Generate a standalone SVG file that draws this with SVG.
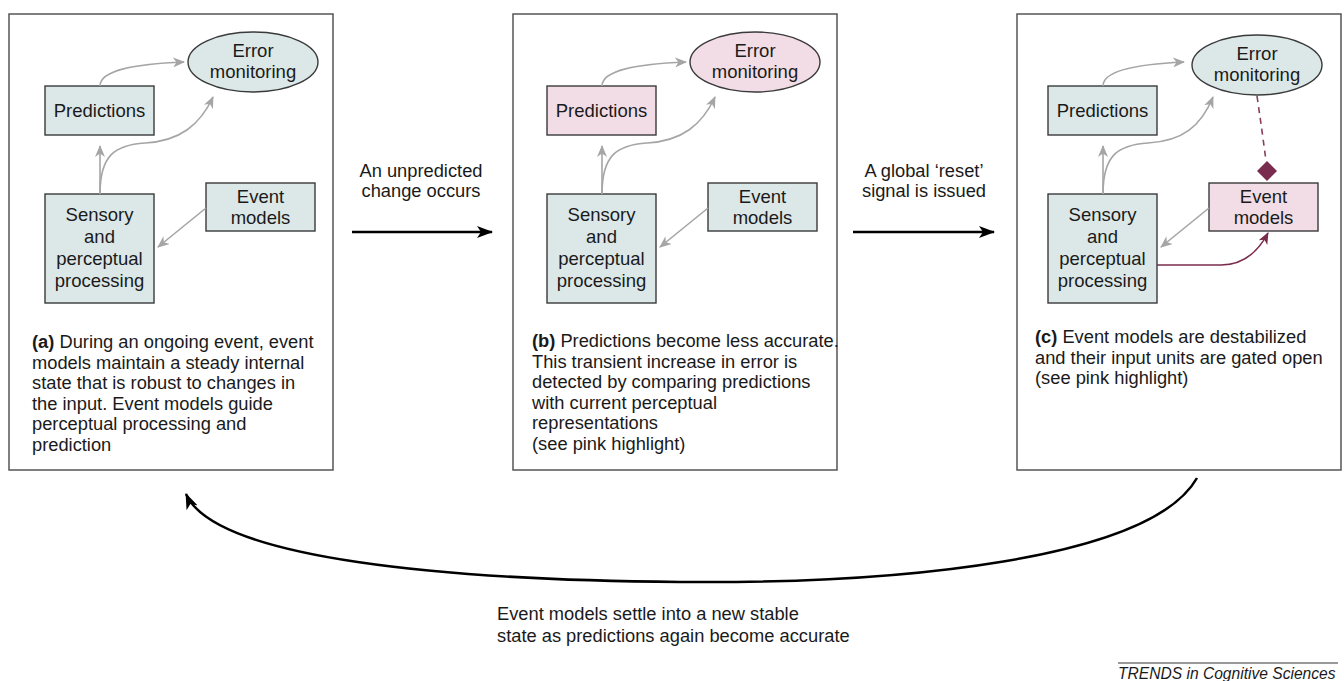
<svg xmlns="http://www.w3.org/2000/svg" width="1344" height="681" viewBox="0 0 1344 681">
<style>
text{font-family:"Liberation Sans",Arial,sans-serif;fill:#1a1a1a}
.nt{font-size:18.5px;text-anchor:middle}
.cap{font-size:18.3px}
.panel{fill:#fff;stroke:#555;stroke-width:1.5}
.blue{fill:#dce8e8;stroke:#3a3a3a;stroke-width:1.4}
.pink{fill:#f2dde6;stroke:#3a3a3a;stroke-width:1.4}
.ga{fill:none;stroke:#a5a5a5;stroke-width:1.6;marker-end:url(#ag)}
.ba{fill:none;stroke:#000;stroke-width:2.5;marker-end:url(#ab)}
</style>
<defs>
<marker id="ag" viewBox="0 0 12 10" refX="11" refY="5" markerWidth="12" markerHeight="10" markerUnits="userSpaceOnUse" orient="auto"><path d="M0,0 L12,5 L0,10 L3.5,5 z" fill="#a5a5a5"/></marker>
<marker id="am" viewBox="0 0 12 10" refX="11" refY="5" markerWidth="12" markerHeight="10" markerUnits="userSpaceOnUse" orient="auto"><path d="M0,0 L12,5 L0,10 L3.5,5 z" fill="#7a2c4e"/></marker>
<marker id="ab" viewBox="0 0 16 12" refX="15" refY="6" markerWidth="16" markerHeight="12" markerUnits="userSpaceOnUse" orient="auto"><path d="M0,0 L16,6 L0,12 L4,6 z" fill="#000"/></marker>
</defs>
<rect width="1344" height="681" fill="#fff"/>

<!-- Panel frames -->
<rect id="panel-a" class="panel" x="9" y="14" width="324" height="456"/>
<rect id="panel-b" class="panel" x="513" y="14" width="324" height="456"/>
<rect id="panel-c" class="panel" x="1017" y="14" width="324" height="456"/>

<!-- Panel a -->
<g id="a">
  <g id="a-error"><ellipse class="blue" cx="253" cy="62" rx="65" ry="30"/><text class="nt" x="253" y="57">Error</text><text class="nt" x="253" y="78">monitoring</text></g>
  <g id="a-predictions"><rect class="blue" x="45" y="86" width="109" height="49"/><text class="nt" x="99.5" y="117">Predictions</text></g>
  <g id="a-sensory"><rect class="blue" x="45" y="194" width="109" height="109"/><text class="nt" x="99.5" y="221">Sensory</text><text class="nt" x="99.5" y="243">and</text><text class="nt" x="99.5" y="265">perceptual</text><text class="nt" x="99.5" y="287">processing</text></g>
  <g id="a-event"><rect class="blue" x="206" y="183" width="109" height="48"/><text class="nt" x="260.5" y="203">Event</text><text class="nt" x="260.5" y="224">models</text></g>
  <g id="a-connectors">
    <path class="ga" d="M100 86 C100 70 135 64 184 62"/>
    <path class="ga" d="M100 194 L100 146"/>
    <path class="ga" d="M100 194 C100 155 115 145 145 143 C180 141 200 125 213 97"/>
    <path class="ga" d="M206 208 L158 247"/>
  </g>
  <text class="cap" x="32" y="348"><tspan font-weight="bold">(a)</tspan> During an ongoing event, event</text>
  <text class="cap" x="32" y="368.5">models maintain a steady internal</text>
  <text class="cap" x="32" y="389">state that is robust to changes in</text>
  <text class="cap" x="32" y="409.5">the input. Event models guide</text>
  <text class="cap" x="32" y="430">perceptual processing and</text>
  <text class="cap" x="32" y="450.5">prediction</text>
</g>

<!-- Panel b -->
<g id="b">
  <g transform="translate(502,0)">
    <g id="b-error"><ellipse class="pink" cx="253" cy="62" rx="65" ry="30"/><text class="nt" x="253" y="57">Error</text><text class="nt" x="253" y="78">monitoring</text></g>
    <g id="b-predictions"><rect class="pink" x="45" y="86" width="109" height="49"/><text class="nt" x="99.5" y="117">Predictions</text></g>
    <g id="b-sensory"><rect class="blue" x="45" y="194" width="109" height="109"/><text class="nt" x="99.5" y="221">Sensory</text><text class="nt" x="99.5" y="243">and</text><text class="nt" x="99.5" y="265">perceptual</text><text class="nt" x="99.5" y="287">processing</text></g>
    <g id="b-event"><rect class="blue" x="206" y="183" width="109" height="48"/><text class="nt" x="260.5" y="203">Event</text><text class="nt" x="260.5" y="224">models</text></g>
    <g id="b-connectors">
      <path class="ga" d="M100 86 C100 70 135 64 184 62"/>
      <path class="ga" d="M100 194 L100 146"/>
      <path class="ga" d="M100 194 C100 155 115 145 145 143 C180 141 200 125 213 97"/>
      <path class="ga" d="M206 208 L158 247"/>
    </g>
  </g>
  <text class="cap" x="532" y="347"><tspan font-weight="bold">(b)</tspan> Predictions become less accurate.</text>
  <text class="cap" x="532" y="367.5">This transient increase in error is</text>
  <text class="cap" x="532" y="388">detected by comparing predictions</text>
  <text class="cap" x="532" y="408.5">with current perceptual</text>
  <text class="cap" x="532" y="429">representations</text>
  <text class="cap" x="532" y="449.5">(see pink highlight)</text>
</g>

<!-- Panel c -->
<g id="c">
  <g transform="translate(1003,0)">
    <g id="c-error"><ellipse class="blue" cx="254" cy="65" rx="65" ry="30"/><text class="nt" x="254" y="60">Error</text><text class="nt" x="254" y="81">monitoring</text></g>
    <g id="c-predictions"><rect class="blue" x="45" y="86" width="109" height="49"/><text class="nt" x="99.5" y="117">Predictions</text></g>
    <g id="c-sensory"><rect class="blue" x="45" y="194" width="109" height="109"/><text class="nt" x="99.5" y="221">Sensory</text><text class="nt" x="99.5" y="243">and</text><text class="nt" x="99.5" y="265">perceptual</text><text class="nt" x="99.5" y="287">processing</text></g>
    <g id="c-event"><rect class="pink" x="206" y="183" width="109" height="48"/><text class="nt" x="260.5" y="203">Event</text><text class="nt" x="260.5" y="224">models</text></g>
    <g id="c-connectors">
      <path class="ga" d="M100 86 C100 70 135 64 181 62"/>
      <path class="ga" d="M100 194 L100 146"/>
      <path class="ga" d="M100 194 C100 155 115 145 145 143 C180 141 198 126 210 97"/>
      <path class="ga" d="M206 208 L158 247"/>
      <path d="M254 96 Q259 130 263 161" fill="none" stroke="#8a3d5e" stroke-width="1.6" stroke-dasharray="6,5"/>
      <path d="M264 161 L274 171 L264 181 L254 171 z" fill="#7a2c4e"/>
      <path d="M154 265 L218 265 C242 265 256 250 265 233" fill="none" stroke="#7a2c4e" stroke-width="1.6" marker-end="url(#am)"/>
    </g>
  </g>
  <text class="cap" x="1035" y="343"><tspan font-weight="bold">(c)</tspan> Event models are destabilized</text>
  <text class="cap" x="1035" y="363.5">and their input units are gated open</text>
  <text class="cap" x="1035" y="384">(see pink highlight)</text>
</g>

<!-- Transitions -->
<g id="connectors">
  <path class="ba" d="M352 232 L492 232"/>
  <path class="ba" d="M853 232 L994 232"/>
  <path class="ba" d="M1197 478 C1150 560 900 584 680 582 C450 580 215 560 186 494"/>
</g>
<g id="labels">
  <text class="cap" x="421" y="177" text-anchor="middle">An unpredicted</text>
  <text class="cap" x="421" y="197" text-anchor="middle">change occurs</text>
  <text class="cap" x="924" y="177" text-anchor="middle">A global ‘reset’</text>
  <text class="cap" x="924" y="197" text-anchor="middle">signal is issued</text>
  <text class="cap" x="497" y="620">Event models settle into a new stable</text>
  <text class="cap" x="497" y="642">state as predictions again become accurate</text>
</g>
<g id="footer">
  <line x1="1118" y1="663" x2="1338" y2="663" stroke="#777" stroke-width="1.3"/>
  <text x="1118" y="679" font-size="15.6" font-style="italic" fill="#222">TRENDS in Cognitive Sciences</text>
</g>
</svg>
